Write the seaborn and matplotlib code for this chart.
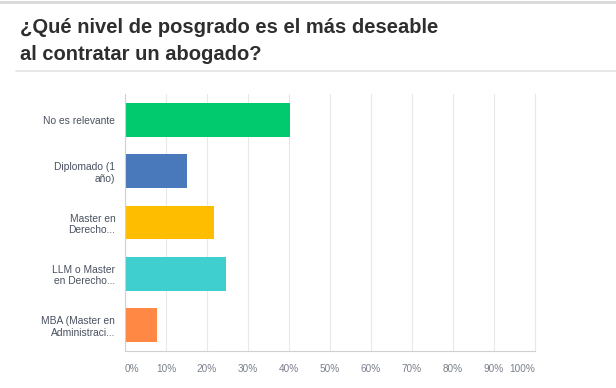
import pandas as pd
import numpy as np
import matplotlib
matplotlib.use("Agg")
from matplotlib import pyplot as plt
import seaborn as sns

# datos de la encuesta
categorias = ["No es relevante", "Diplomado (1\naño)", "Master en\nDerecho...",
              "LLM o Master\nen Derecho...", "MBA (Master en\nAdministraci..."]
porcentajes = [40.2, 15.0, 21.8, 24.7, 7.9]
colores = ["#00c96e", "#4a79bb", "#ffbd00", "#40cfcf", "#ff8844"]
ticks_x = [0, 10, 20, 30, 40, 50, 60, 70, 80, 90, 100]
etiquetas_x = [str(t) + "%" for t in ticks_x]

df = pd.DataFrame({"categoria": categorias, "porcentaje": porcentajes})

sns.set_style("white")
plt.rcParams['font.family'] = ['Liberation Sans', 'DejaVu Sans']

fig = plt.figure(figsize=(6.16, 3.88), dpi=100)
ax = fig.add_axes([125 / 616, 1 - 351 / 388, 410 / 616, 257 / 388])

sns.barplot(data=df, x="porcentaje", y="categoria", hue="categoria",
            palette=colores, orient="h", width=0.66, legend=False, ax=ax,
            edgecolor="none", saturation=1)

ax.set_xlim(0, 100)
ax.set_xticks(ticks_x)
ax.set_xticklabels(etiquetas_x, fontsize=7.2, color="#7a808a")
ax.tick_params(axis="y", labelsize=7.4, labelcolor="#4a5260", length=0, pad=7)
ax.tick_params(axis="x", length=0, pad=9)
ax.set_xlabel("")
ax.set_ylabel("")
ax.grid(axis="x", color="#e8e8e8", linewidth=0.8)
ax.set_axisbelow(True)
for lab in ax.get_yticklabels():
    lab.set_horizontalalignment("right")
    lab.set_multialignment("right")
xl = ax.get_xticklabels()
xl[0].set_horizontalalignment("left")
xl[-1].set_horizontalalignment("right")
ax.spines["top"].set_visible(False)
ax.spines["right"].set_color("#e8e8e8")
ax.spines["left"].set_color("#d0d0d0")
ax.spines["bottom"].set_color("#d0d0d0")

# titulo y lineas de la tarjeta
fig.text(20 / 616, 1 - 33 / 388, "¿Qué nivel de posgrado es el más deseable",
         fontsize=14.5, fontweight="bold", color="#2e2e2e", va="baseline")
fig.text(20 / 616, 1 - 60 / 388, "al contratar un abogado?",
         fontsize=14.5, fontweight="bold", color="#2e2e2e", va="baseline")
fig.add_artist(plt.Line2D([16 / 616, 1], [1 - 71 / 388] * 2, color="#e3e3e3", linewidth=1.2))
fig.add_artist(plt.Line2D([0, 1], [1 - 1.5 / 388] * 2, color="#d8d8d8", linewidth=2))

fig.savefig("out.png", dpi=100)
